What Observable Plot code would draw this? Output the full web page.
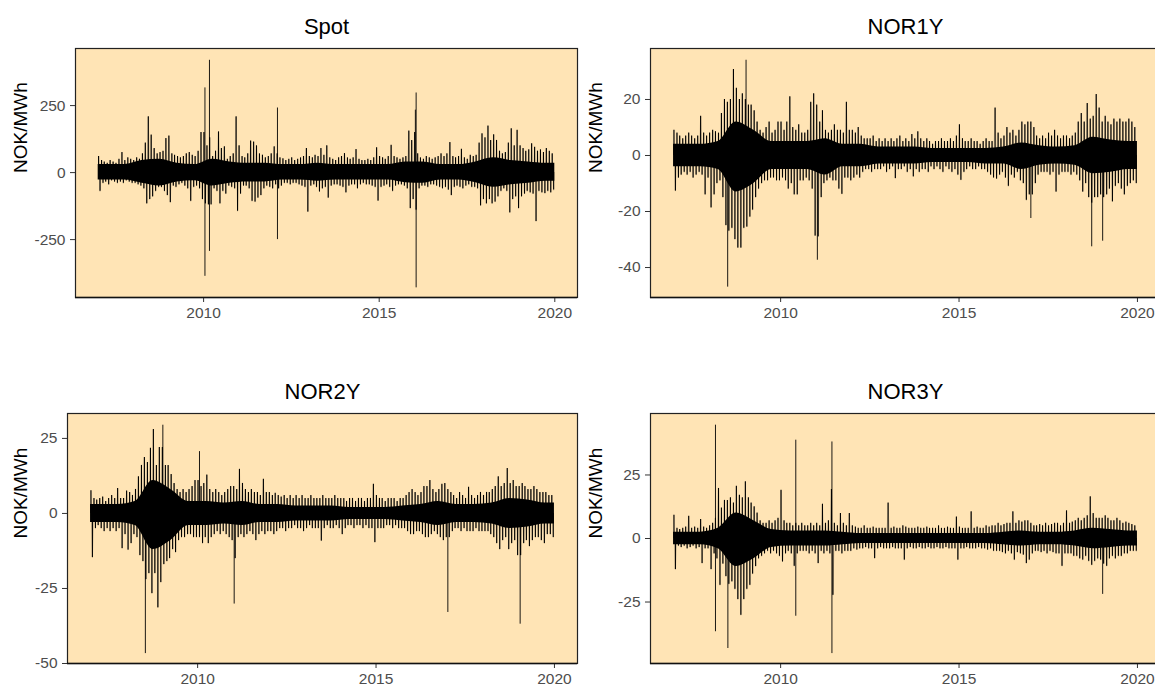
<!DOCTYPE html>
<html><head><meta charset="utf-8">
<script src="https://cdn.jsdelivr.net/npm/d3@7"></script>
<script src="https://cdn.jsdelivr.net/npm/@observablehq/plot@0.6"></script>
<style>
html,body{margin:0;padding:0;background:#fff;overflow:hidden}
#wrap{position:relative;width:1155px;height:689px;overflow:hidden;background:#fff}
#wrap svg{position:absolute}
</style></head><body><div id="wrap"></div>
<script>
// ---- data (monthly envelope, half-year dense core, isolated spikes) ----
const titles = ["Spot", "NOR1Y", "NOR2Y", "NOR3Y"];
const yLabel = "NOK/MWh";
const xTickYears = [2010, 2015, 2020];
const spotTicks = [-250, 0, 250];
const nor1yTicks = [-40, -20, 0, 20];
const nor2yTicks = [-50, -25, 0, 25];
const nor3yTicks = [-25, 0, 25];

const spotHi = [
 60,45,40,35,45,40,35,50,75,45,55,50,
 45,55,50,70,110,208,140,90,70,75,80,127,
 137,70,65,60,55,60,70,75,65,60,80,150,
 150,100,130,60,80,152,90,96,50,60,70,208,
 100,60,55,70,118,114,100,70,65,55,60,70,
 96,70,55,52,45,50,55,45,50,55,60,90,
 60,55,65,60,90,65,100,55,50,45,55,60,
 71,55,50,55,86,50,45,45,50,45,55,93,
 60,55,50,60,102,60,55,50,55,60,155,120,
 150,70,55,50,60,55,50,55,60,70,60,70,
 112,60,55,60,87,55,50,65,60,65,110,145,
 130,174,120,141,120,80,70,75,110,164,100,158,
 100,90,80,85,108,95,80,85,75,90,80,70];
const spotLo = [
 -70,-40,-35,-45,-30,-35,-40,-35,-40,-30,-35,-40,
 -40,-45,-50,-60,-116,-100,-90,-70,-55,-55,-70,-85,
 -112,-50,-55,-45,-40,-50,-60,-107,-55,-50,-60,-100,
 -116,-120,-120,-60,-70,-116,-70,-80,-50,-55,-60,-144,
 -80,-50,-50,-60,-107,-110,-95,-85,-60,-50,-55,-60,
 -45,-60,-50,-40,-40,-45,-40,-40,-45,-50,-55,-147,
 -50,-45,-55,-72,-60,-55,-95,-50,-45,-45,-50,-55,
 -75,-50,-45,-45,-60,-45,-40,-45,-45,-50,-55,-106,
 -55,-50,-45,-55,-70,-50,-45,-45,-50,-60,-134,-100,
 -140,-60,-50,-50,-55,-45,-45,-50,-55,-60,-55,-65,
 -85,-55,-50,-55,-60,-50,-45,-55,-55,-60,-124,-100,
 -116,-100,-116,-110,-90,-70,-60,-70,-150,-100,-90,-134,
 -90,-80,-70,-75,-80,-182,-70,-75,-78,-70,-75,-65];
const spotCoreHi = [30,30,45,50,35,30,50,40,35,35,30,30,35,30,30,30,30,40,40,30,30,40,55,45,40,35];
const spotCoreLo = [-28,-28,-40,-50,-35,-30,-50,-40,-35,-35,-28,-28,-32,-28,-28,-28,-28,-38,-40,-28,-28,-38,-55,-45,-40,-32];
const spotSpikeDates = ["2010-01-15","2010-01-15","2010-03-03","2010-03-03","2012-02-08","2012-02-08","2016-01-20","2016-01-20","2016-01-12"];
const spotSpikeValues = [316,-387,419,-294,241,-250,297,-430,233];

const nor1yHi = [
 9,8,7,6,7,8,7,6,7,14,8,7,
 8,9,8.5,8,15,20,19,20,30.7,24,20,22,
 20,18,18,16,12,9,8,10,12,8,9,12,
 12,9,12,21,10,9,11,8,8,9,19,22,
 18,12,16,9,8,9,11,9,9,8,19,9,
 9,8,10,7,6,6,6,7,5,6,5,6,
 5,6,5,6,7,5,6,5,7.5,6,8.5,6,
 5,6,5,4,5,5,6,5,5,6,5,7,
 11,6,5,5,6,5,5,4,5,6,5,5,
 17,8,6,7,10,8,9,7,9,12,11,12,
 12,10,7,6,7,6,8,7,9,7,6,7,
 7,6,7,8,12,15,12,18.6,13,14,21.8,17,
 12,14,12,11,13,12,13,12,12,13,12,10];
const nor1yLo = [
 -12.7,-8,-7,-6,-7,-6,-8,-7,-6,-7,-14,-8,
 -18.7,-14,-10,-9,-15,-25,-27,-26,-30,-33,-33,-26,
 -25.5,-22,-19.5,-15,-12,-10,-9,-9,-8,-8,-9,-9,
 -8,-9,-12,-10,-14,-14,-9,-9,-8,-9,-12,-28.7,
 -29,-15,-10,-9,-8,-9,-9,-12,-13.8,-8,-8,-9,
 -8,-7,-8,-6,-5,-5,-6,-5,-5,-5,-4,-6,
 -5,-4,-8.2,-5,-5,-4,-6,-5,-7.6,-5,-6,-5,
 -5,-6,-4,-5,-4,-5,-6,-4,-5,-6,-5,-7,
 -8.8,-6,-5,-4,-5,-5,-4,-5,-5,-6,-7,-8,
 -8.4,-7,-6,-8,-11,-7,-8,-6,-9,-10,-16,-14,
 -14,-10,-7,-6,-6,-6,-7,-6,-13,-7,-6,-6,
 -6,-7,-6,-7,-9,-13,-10,-15,-17,-15,-15,-14,
 -15,-14,-12,-16.5,-11,-10,-12,-14,-11,-10,-9,-10];
const nor1yCoreHi = [4,4,5,12,9,5,5,5,6,4,4,3,3,3,2.5,2.5,2.5,2.5,3,4.5,3.5,3,3.5,6.5,5.5,5];
const nor1yCoreLo = [-4,-4,-5,-13,-10,-5,-5,-5,-7,-4,-4,-3,-3,-3,-2.5,-2.5,-2.5,-3,-3,-5,-3.5,-3,-3.5,-6.5,-6,-5];
const nor1ySpikeDates = ["2008-07-08","2009-01-12","2011-01-12","2017-01-05","2018-09-20","2019-01-10"];
const nor1ySpikeValues = [-47,34,-37.4,-22.5,-32.6,-30.6];

const nor2yHi = [
 7.6,5,4.5,5,5.5,4,5,6,5,8.3,5,5,
 7.5,7,6,8,12.2,16,18.6,17,21.7,28,16,22,
 22,16,16,13,10,8,7,8,7,8,9,11,
 11,9,10,12.8,8,7,8,7,6,7,8,9,
 9,8,14.7,10,8,7,8,7,7,6,11.4,7,
 7,6,6.7,6,5.5,6,5,6,5,6,5,6,
 5,5,6,5,5,5,6,5,5,5,6,5,
 5,5,4,5,5,4,5,5,4,5,5,9.7,
 6,5,5,4,5,5,5,4,5,5,6,7,
 8,7,6,7,9,9,11,8,7,8,9.7,10,
 8,7,6,5,7,6,5,8.7,6,5,6,7,
 6,7,7,8,9,12.2,9,10,15,10,11,9,
 9,10,9,8,8,9,8,7,7,7,6,6];
const nor2yLo = [
 -14.7,-5,-4,-5,-6,-5,-6,-5,-6,-5,-11.7,-7,
 -12.2,-10,-7,-8,-14,-16,-22,-20,-26.7,-20,-31.4,-23,
 -17,-16,-15,-12,-13,-9,-8,-8,-7,-7,-8,-8,
 -8,-10,-8,-10,-8,-7,-6,-7,-6,-7,-8,-9,
 -15,-8,-7,-8,-7,-6,-7,-9,-7,-6,-7,-6,
 -6,-7,-6,-5,-5,-6,-5,-5,-4,-5,-5,-6,
 -5,-4,-5,-5,-5,-9.2,-5,-4,-5,-5,-4,-5,
 -7,-5,-4,-4,-5,-4,-4,-5,-4,-5,-5,-9.7,
 -5,-5,-5,-4,-4,-5,-4,-5,-5,-5,-6,-7,
 -7,-6,-6,-7,-8,-8,-7,-6,-7,-8,-9,-8,
 -8,-6,-5,-5,-6,-5,-6,-6,-6,-5,-6,-6,
 -6,-6,-7,-8,-10,-12,-9,-8,-12,-10,-9,-14,
 -14,-10,-9,-11,-9,-8,-8,-9,-10,-7,-7,-8];
const nor2yCoreHi = [3,3,4,11,8,4,4,3.5,4,3,3,2.5,2.5,2.5,2,2,2,2.5,3,4,3,3,3.5,5,4.5,3.5];
const nor2yCoreLo = [-3,-3,-4,-12,-9,-4,-4,-3.5,-4,-3,-3,-2.5,-2.5,-2.5,-2,-2,-2,-2.5,-3,-4,-3,-3,-3.5,-5,-4.5,-3.5];
const nor2ySpikeDates = ["2008-07-15","2009-01-10","2010-01-20","2011-01-10","2017-01-05","2019-01-15"];
const nor2ySpikeValues = [-46.7,29.4,20.6,-30.2,-33,-36.9];

const nor3yHi = [
 9.2,4,3.5,4,4.5,8.8,4,4.5,4,7.5,4.5,4,
 5,6,8,19.7,12,15,15,16,14,20.6,17,16,
 22.3,16,14,12.5,10,7,6,6,7,6,7,8,
 19,7,6,6,5,6,5,6,5,5,6,5,
 6,5,13.5,6,7,19.3,6,5,9.8,6,5,9.8,
 5,4.5,4,4,5,4,4,4.5,4,4,4,4,
 14,4,4.5,4,4,5,4.5,4,4,4,4.5,4,
 4,4.5,4,4,4,5,4,4,4.5,4,4,8.5,
 4.5,4,4,4,10.5,4,4.5,4,4,5,4.5,5,
 5,6,5,5.5,6,6,10.5,6,7,6.5,7,7,
 6,5,5,5.5,5,6,5,5.5,6,6,5,6,
 10.9,6,6.5,7,8,7,8,9,16.4,9.8,8,8,
 8,9,8,7,7,8,7,6,6.5,6,5.5,5];
const nor3yLo = [
 -12.2,-3,-3.5,-3,-4,-3.5,-3,-4,-3.5,-9.8,-4,-4,
 -12.2,-6,-8,-18.4,-10,-15,-18,-17,-20,-24,-30.2,-24,
 -20,-18.4,-14,-11,-8,-7,-6,-5,-6,-5,-6,-7,
 -9.2,-6,-5,-6,-10.9,-6,-5,-5,-5,-6,-5,-6,
 -9.8,-5,-6,-5,-6,-22.3,-5,-5,-6,-5,-5,-5,
 -4,-4.5,-4,-4,-3.5,-4,-4,-7.9,-4,-3.5,-4,-4,
 -4,-3.5,-4,-4,-4,-8.5,-4,-3.5,-4,-4,-3.5,-4,
 -4,-3.5,-4,-4,-3.5,-4,-4,-3.5,-4,-4,-4,-8.5,
 -4,-4,-3.5,-4,-4,-4,-3.5,-4,-4,-4.5,-4,-5,
 -5,-5,-5.5,-6,-5,-6,-8.5,-5.5,-6,-6.5,-9.8,-8.5,
 -6,-5,-5,-5.5,-5,-6,-5,-5.5,-6,-6,-10.9,-6,
 -6,-6,-7,-7,-8,-8.5,-7,-9,-10.5,-9,-8,-8.5,
 -10,-10.9,-8,-7,-8,-7,-7,-6,-6,-5,-5,-5];
const nor3yCoreHi = [2.5,2.5,4,10,7,3.5,3,3,3,2.5,2,2,2,2,2,2,2,2,2.5,3,2.5,2.5,3,4,3.5,3];
const nor3yCoreLo = [-2.5,-2.5,-4,-11,-8,-3.5,-3,-3,-3,-2.5,-2,-2,-2,-2,-2,-2,-2,-2,-2.5,-3,-2.5,-2.5,-3,-4,-3.5,-3];
const nor3ySpikeDates = ["2008-03-05","2008-03-05","2008-07-10","2010-06-05","2010-06-05","2011-06-10","2011-06-10","2019-01-10"];
const nor3ySpikeValues = [44.6,-36.7,-43.3,38.7,-30.6,38,-45.3,-22];

// ---- construction ----
const start = new Date(Date.UTC(2007, 0, 1));
const end = new Date(Date.UTC(2020, 0, 1));
const months = d3.utcMonth.range(start, end);
const halfMids = d3.utcMonth.every(6).range(start, end).map(d => d3.utcMonth.offset(d, 3));
const xDomain = [new Date(Date.UTC(2006, 4, 10)), new Date(Date.UTC(2020, 7, 24))];
const xTicks = xTickYears.map(y => new Date(Date.UTC(y, 0, 1)));
const font = "'Liberation Sans', Arial, Helvetica, sans-serif";

function check(name, a, n) { if (a.length !== n) throw new Error(name + " has " + a.length); }

function panel(o) {
  check(o.title + " hi", o.hi, 156); check(o.title + " lo", o.lo, 156);
  check(o.title + " coreHi", o.coreHi, 26); check(o.title + " coreLo", o.coreLo, 26);
  // monthly extremes drawn as vertical strokes: maxima early in the month, minima mid-month
  const swings = [];
  months.forEach((m, i) => {
    swings.push({date: d3.utcDay.offset(m, 4), v: o.hi[i]});
    swings.push({date: d3.utcDay.offset(m, 19), v: o.lo[i]});
  });
  // dense core: half-year values placed at each half-year's middle, held flat to the series ends
  const core = [{date: start, hi: o.coreHi[0], lo: o.coreLo[0]}]
    .concat(halfMids.map((d, i) => ({date: d, hi: o.coreHi[i], lo: o.coreLo[i]})))
    .concat([{date: end, hi: o.coreHi[25], lo: o.coreLo[25]}]);
  const spikes = o.spikeDates.map((d, i) => ({date: new Date(d + "T00:00:00Z"), v: o.spikeValues[i]}));
  const svg = Plot.plot({
    width: o.width, height: o.height,
    marginLeft: o.ml, marginRight: o.mr, marginTop: 48, marginBottom: 33,
    x: {type: "utc", domain: xDomain},
    y: {domain: o.yDomain},
    style: {fontFamily: font, background: "transparent", overflow: "visible"},
    marks: [
      Plot.frame({fill: "#FFE4B5", stroke: null}),
      Plot.areaY(core, {x: "date", y1: "lo", y2: "hi", curve: "monotone-x", fill: "#000"}),
      Plot.ruleX(swings, {x: "date", y1: 0, y2: "v", stroke: "#000", strokeWidth: 1.1}),
      Plot.line(swings, {x: "date", y: "v", stroke: "#000", strokeWidth: 0.35, strokeOpacity: 0.6}),
      Plot.ruleX(spikes, {x: "date", y1: 0, y2: "v", stroke: "#000", strokeWidth: 0.9}),
      Plot.frame({stroke: "#222", strokeWidth: 1.2}),
      Plot.axisX({ticks: xTicks, tickFormat: d3.utcFormat("%Y"), tickSize: 5, tickPadding: 4, fontSize: 15.5, fill: "#4D4D4D", stroke: "#333", label: null}),
      Plot.axisY({ticks: o.yTicks, tickFormat: d => String(d), tickSize: 5, tickPadding: 5, fontSize: 15.5, fill: "#4D4D4D", stroke: "#333", label: null}),
      Plot.ruleY([o.yDomain[0]], {stroke: "#111", strokeWidth: 1.6}),
      Plot.text([o.title], {text: d => d, frameAnchor: "top", dy: -15, lineAnchor: "bottom", fontSize: 22, fill: "#000"}),
      Plot.text([yLabel], {text: d => d, frameAnchor: "left", dx: -(o.ml - 20), rotate: -90, fontSize: 19, fill: "#000"})
    ]
  });
  svg.style.left = o.left + "px";
  svg.style.top = o.top + "px";
  document.getElementById("wrap").appendChild(svg);
}

panel({title: titles[0], hi: spotHi, lo: spotLo, coreHi: spotCoreHi, coreLo: spotCoreLo,
  spikeDates: spotSpikeDates, spikeValues: spotSpikeValues, yTicks: spotTicks, yDomain: [-466, 463],
  left: 0, top: 0, width: 580, height: 330, ml: 75, mr: 3});
panel({title: titles[1], hi: nor1yHi, lo: nor1yLo, coreHi: nor1yCoreHi, coreLo: nor1yCoreLo,
  spikeDates: nor1ySpikeDates, spikeValues: nor1ySpikeValues, yTicks: nor1yTicks, yDomain: [-50.7, 38.2],
  left: 575, top: 0, width: 595, height: 330, ml: 75, mr: 10});
panel({title: titles[2], hi: nor2yHi, lo: nor2yLo, coreHi: nor2yCoreHi, coreLo: nor2yCoreLo,
  spikeDates: nor2ySpikeDates, spikeValues: nor2ySpikeValues, yTicks: nor2yTicks, yDomain: [-50, 33.3],
  left: 0, top: 365, width: 580, height: 331, ml: 67, mr: 3});
panel({title: titles[3], hi: nor3yHi, lo: nor3yLo, coreHi: nor3yCoreHi, coreLo: nor3yCoreLo,
  spikeDates: nor3ySpikeDates, spikeValues: nor3ySpikeValues, yTicks: nor3yTicks, yDomain: [-49.2, 49.2],
  left: 575, top: 365, width: 595, height: 331, ml: 75, mr: 10});
</script></body></html>
